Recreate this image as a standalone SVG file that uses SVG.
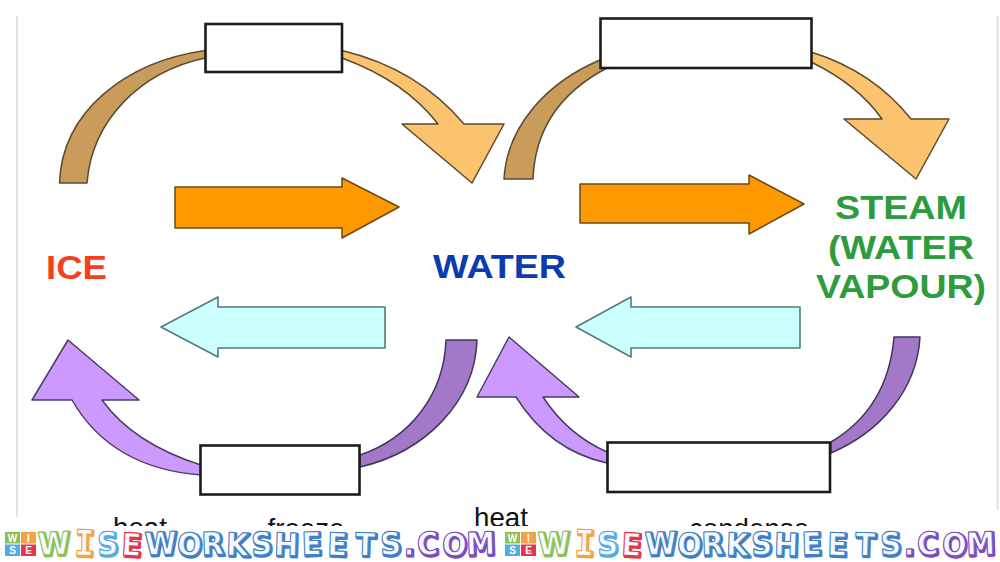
<svg xmlns="http://www.w3.org/2000/svg" xmlns:xlink="http://www.w3.org/1999/xlink" width="1000" height="562" viewBox="0 0 1000 562">
<style>
.box{fill:#fff;stroke:#1c1c1c;stroke-width:2.6}
.brown{fill:#c99c5c;stroke:#5c4a30;stroke-width:1.5;stroke-linejoin:round}
.lorange{fill:#fcc36f;stroke:#5c4a30;stroke-width:1.5;stroke-linejoin:round}
.orange{fill:#ff9900;stroke:#6a4a14;stroke-width:1.5;stroke-linejoin:round}
.cyan{fill:#ccffff;stroke:#557a7a;stroke-width:1.6;stroke-linejoin:round}
.dpurple{fill:#a378c8;stroke:#43345c;stroke-width:1.5;stroke-linejoin:round}
.lpurple{fill:#cc99ff;stroke:#4a3d60;stroke-width:1.5;stroke-linejoin:round}
.big{font-family:"Liberation Sans",Arial,sans-serif;font-weight:700}
.lbl{font-family:"Liberation Sans",Arial,sans-serif;font-size:27.7px;fill:#111;text-anchor:middle}
.wm{font-family:"DejaVu Sans",sans-serif;font-weight:700;font-size:29px;text-anchor:middle;stroke-linejoin:round}
.mono{font-family:"DejaVu Sans Mono",monospace;font-size:33px}
.g{stroke:#8cc152}.o{stroke:#f2a444}.b{stroke:#55aae2}.r{stroke:#e6354a}.w{stroke:#3f7fc6}.p{stroke:#7a4cc0}
.tile{font-family:"Liberation Sans",Arial,sans-serif;font-weight:700;font-size:10px;fill:#fff;text-anchor:middle}
</style>
<defs>
<text id="letters" class="wm" y="0" rotate="-2 2 -2 3 -2 2 -2 2 -2 2 -2 2 2 -2 0 -2 2 -2"><tspan class="g" x="54">W</tspan><tspan class="o mono" x="84">I</tspan><tspan class="b" x="108">S</tspan><tspan class="r" x="131">E</tspan><tspan class="w" x="161">W</tspan><tspan class="w" x="189">O</tspan><tspan class="w" x="213">R</tspan><tspan class="w" x="237">K</tspan><tspan class="w" x="262">S</tspan><tspan class="w" x="286">H</tspan><tspan class="w" x="312">E</tspan><tspan class="w" x="337">E</tspan><tspan class="w" x="365">T</tspan><tspan class="w" x="391">S</tspan><tspan class="p" x="409">.</tspan><tspan class="p" x="428">C</tspan><tspan class="p" x="454">O</tspan><tspan class="p" x="481">M</tspan></text>
<g id="mark">
<rect x="5" y="532" width="15" height="11.500" fill="#8cc152"/><rect x="21" y="532" width="15" height="11.500" fill="#f2a444"/>
<rect x="5" y="544.500" width="15" height="11.500" fill="#55aae2"/><rect x="21" y="544.500" width="15" height="11.500" fill="#e6354a"/>
<text class="tile" x="12.500" y="541.500">W</text><text class="tile" x="28.500" y="541.500">I</text><text class="tile" x="12.500" y="554">S</text><text class="tile" x="28.500" y="554">E</text>
<g transform="translate(0 555) scale(1 1.080)">
<use xlink:href="#letters" href="#letters" x="1.200" y="1.200" fill="none" stroke-width="2.800"/>
<use xlink:href="#letters" href="#letters" fill="#f6faff" stroke-width="1"/>
</g>
</g>
</defs>
<rect width="1000" height="562" fill="#fff"/>
<path d="M17 16V517M997.500 16V510" fill="none" stroke="#dcdcdc" stroke-width="1.6"/>
<g id="connectors">
<path class="brown" d="M59.500 183C62 112 125 62 205 50.500V58C140 72 92 120 87 183Z"/>
<path class="lorange" d="M342 50.500C390 62 432 86 464 124H504L472 183L402 124H438C415 94 380 72 342 58Z"/>
<path class="orange" d="M175 187H342V178L399 207L342 238V228H175Z"/>
<path class="brown" d="M504 179C507 125 548 82 600 60L607 68C565 90 535 125 533 179Z"/>
<path class="lorange" d="M811 52C856 66 888 90 911 119H949L916 179L844 119H882C865 95 840 76 811 62Z"/>
<path class="orange" d="M580 184H749V175L804 204L749 234V223H580Z"/>
<path class="cyan" d="M161 327L218 297V307H385V348H218V357Z"/>
<path class="cyan" d="M576 327L631 297V307H800V348H631V357Z"/>
<path class="dpurple" d="M446 340H477C475 402 425 452 360 467V455C410 438 444 395 446 340Z"/>
<path class="lpurple" d="M201 465C160 452 125 432 102 400H139L68 340L32 400H72C95 440 135 470 201 475Z"/>
<path class="dpurple" d="M894 337H920C917 390 880 432 831 453V442C868 420 890 385 894 337Z"/>
<path class="lpurple" d="M607 452C580 440 558 420 543 397H579L509 337L477 397H516C540 435 570 455 607 463Z"/>
</g>
<g id="box-top-left"><rect class="box" x="205.500" y="24" width="136.500" height="48"/></g>
<g id="box-top-right"><rect class="box" x="600.500" y="18.500" width="211" height="49.500"/></g>
<g id="box-bottom-left"><rect class="box" x="200.500" y="445.500" width="159" height="49"/></g>
<g id="box-bottom-right"><rect class="box" x="607.500" y="442.500" width="222.500" height="49.500"/></g>
<g id="node-ice"><text class="big" x="46" y="279" font-size="34" fill="#f5401e" textLength="61" lengthAdjust="spacingAndGlyphs">ICE</text></g>
<g id="node-water"><text class="big" x="433" y="278" font-size="34" fill="#0b3bb0" textLength="133" lengthAdjust="spacingAndGlyphs">WATER</text></g>
<g id="node-steam" fill="#2e9b3c">
<text class="big" x="835" y="219" font-size="33" textLength="132" lengthAdjust="spacingAndGlyphs">STEAM</text>
<text class="big" x="828" y="259" font-size="33" textLength="146" lengthAdjust="spacingAndGlyphs">(WATER</text>
<text class="big" x="816" y="298" font-size="33" textLength="170" lengthAdjust="spacingAndGlyphs">VAPOUR)</text>
</g>
<g id="labels">
<text class="lbl" x="140" y="537">heat</text>
<text class="lbl" x="306" y="538">freeze</text>
<text class="lbl" x="501" y="527">heat</text>
<text class="lbl" x="749" y="538">condense</text>
</g>
<g id="watermark">
<rect x="0" y="526" width="1000" height="36" fill="#fff"/>
<use xlink:href="#mark" href="#mark"/>
<use xlink:href="#mark" href="#mark" x="500"/>
</g>
</svg>
